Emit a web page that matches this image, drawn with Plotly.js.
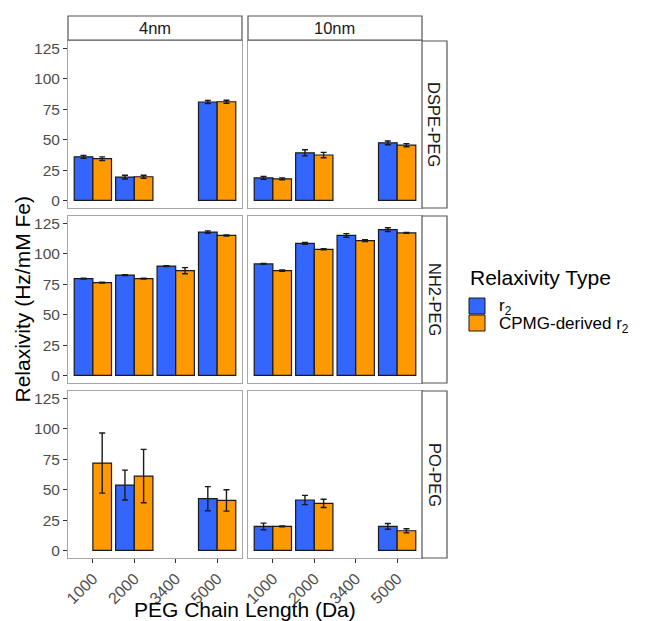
<!DOCTYPE html>
<html>
<head>
<meta charset="utf-8">
<script src="https://cdn.plot.ly/plotly-3.0.1.min.js"></script>
<style>html,body{margin:0;padding:0;background:#fff;}#chart{width:656px;height:621px;}</style>
</head>
<body>
<div id="chart"></div>
<script>
// ---- data ----
const categories = ['1000', '2000', '3400', '5000'];
const sizes = ['4nm', '10nm'];
const coatings = ['DSPE-PEG', 'NH2-PEG', 'PO-PEG'];

const dspe_4nm_r2 = [35.9, 19.2, null, 81.0];
const dspe_4nm_r2_err = [1.2, 1.5, null, 1.2];
const dspe_4nm_cpmg = [34.4, 19.5, null, 81.2];
const dspe_4nm_cpmg_err = [1.5, 1.2, null, 1.2];
const dspe_10nm_r2 = [18.6, 39.2, null, 47.4];
const dspe_10nm_r2_err = [1.2, 2.5, null, 1.5];
const dspe_10nm_cpmg = [17.8, 37.4, null, 45.5];
const dspe_10nm_cpmg_err = [0.8, 2.2, null, 1.3];

const nh2_4nm_r2 = [79.7, 82.6, 90.0, 118.0];
const nh2_4nm_r2_err = [0.3, 0.3, 0.3, 1.0];
const nh2_4nm_cpmg = [76.4, 79.7, 86.2, 115.2];
const nh2_4nm_cpmg_err = [0.3, 0.3, 2.5, 0.4];
const nh2_10nm_r2 = [91.8, 108.7, 115.2, 120.0];
const nh2_10nm_r2_err = [0.3, 0.8, 1.5, 1.5];
const nh2_10nm_cpmg = [86.3, 103.8, 111.0, 117.3];
const nh2_10nm_cpmg_err = [0.6, 0.4, 0.8, 0.3];

const po_4nm_r2 = [null, 53.8, null, 42.6];
const po_4nm_r2_err = [null, 12.3, null, 9.9];
const po_4nm_cpmg = [71.9, 61.2, null, 41.2];
const po_4nm_cpmg_err = [24.7, 22.0, null, 8.8];
const po_10nm_r2 = [19.8, 41.5, null, 19.8];
const po_10nm_r2_err = [2.7, 3.8, null, 2.4];
const po_10nm_cpmg = [19.8, 38.7, null, 16.2];
const po_10nm_cpmg_err = [0.3, 3.4, null, 1.7];

const yTicks = [0, 25, 50, 75, 100, 125];

// ---- layout helpers ----
const W = 656, H = 621;
const px = v => v / W;
const py = v => 1 - v / H;
const FONT = 'Liberation Sans, Arial, sans-serif';
const BLUE = '#3366FF', ORANGE = '#FF9900';

const colX = [[68, 242], [248, 422]];
const rowY = [[41, 208], [216, 383], [391, 558]];

const panels = [
  [[dspe_4nm_r2, dspe_4nm_r2_err, dspe_4nm_cpmg, dspe_4nm_cpmg_err],
   [dspe_10nm_r2, dspe_10nm_r2_err, dspe_10nm_cpmg, dspe_10nm_cpmg_err]],
  [[nh2_4nm_r2, nh2_4nm_r2_err, nh2_4nm_cpmg, nh2_4nm_cpmg_err],
   [nh2_10nm_r2, nh2_10nm_r2_err, nh2_10nm_cpmg, nh2_10nm_cpmg_err]],
  [[po_4nm_r2, po_4nm_r2_err, po_4nm_cpmg, po_4nm_cpmg_err],
   [po_10nm_r2, po_10nm_r2_err, po_10nm_cpmg, po_10nm_cpmg_err]]
];

const traces = [];
const layout = {
  width: W, height: H,
  margin: {l: 0, r: 0, t: 0, b: 0},
  paper_bgcolor: '#fff', plot_bgcolor: '#fff',
  barmode: 'group', bargap: 0.1, bargroupgap: 0,
  showlegend: false,
  font: {family: FONT, color: '#000'},
  shapes: [], annotations: []
};

let n = 0;
for (let r = 0; r < 3; r++) {
  for (let c = 0; c < 2; c++) {
    n++;
    const sfx = n === 1 ? '' : String(n);
    const d = panels[r][c];
    const errStyle = {type: 'data', color: '#1a1a1a', thickness: 1.4, width: 3};
    traces.push({
      type: 'bar', x: categories, y: d[0], name: 'r<sub>2</sub>',
      xaxis: 'x' + sfx, yaxis: 'y' + sfx,
      marker: {color: BLUE, line: {color: '#1a1a1a', width: 1.2}},
      error_y: Object.assign({array: d[1]}, errStyle),
      hoverinfo: 'x+y'
    });
    traces.push({
      type: 'bar', x: categories, y: d[2], name: 'CPMG-derived r<sub>2</sub>',
      xaxis: 'x' + sfx, yaxis: 'y' + sfx,
      marker: {color: ORANGE, line: {color: '#1a1a1a', width: 1.2}},
      error_y: Object.assign({array: d[3]}, errStyle),
      hoverinfo: 'x+y'
    });
    const bottom = r === 2, left = c === 0;
    layout['xaxis' + sfx] = {
      domain: [px(colX[c][0]), px(colX[c][1])],
      anchor: 'y' + sfx,
      type: 'category', categoryorder: 'array', categoryarray: categories,
      range: [-0.6, 3.6], fixedrange: true,
      showgrid: false, zeroline: false,
      showline: true, mirror: true, linecolor: '#a6a6a6', linewidth: 1,
      ticks: bottom ? 'outside' : '', ticklen: 4, tickcolor: '#333', tickwidth: 1,
      showticklabels: bottom, tickangle: -45,
      tickfont: {family: FONT, size: 16, color: '#4d4d4d'}
    };
    layout['yaxis' + sfx] = {
      domain: [py(rowY[r][1]), py(rowY[r][0])],
      anchor: 'x' + sfx,
      range: [-6.2, 131.2], fixedrange: true,
      tickvals: yTicks,
      showgrid: false, zeroline: false,
      showline: true, mirror: true, linecolor: '#a6a6a6', linewidth: 1,
      ticks: left ? 'outside' : '', ticklen: 4, tickcolor: '#333', tickwidth: 1,
      showticklabels: left,
      tickfont: {family: FONT, size: 15.5, color: '#4d4d4d'}
    };
  }
}

// facet strips: top
sizes.forEach((s, c) => {
  layout.shapes.push({type: 'rect', xref: 'paper', yref: 'paper',
    x0: px(colX[c][0]), x1: px(colX[c][1]), y0: py(40), y1: py(16),
    fillcolor: '#fff', line: {color: '#555', width: 1.2}});
  layout.annotations.push({xref: 'paper', yref: 'paper',
    x: px((colX[c][0] + colX[c][1]) / 2), y: py(28), xanchor: 'center', yanchor: 'middle',
    text: s, showarrow: false, font: {family: FONT, size: 16.5, color: '#1a1a1a'}});
});
// facet strips: right
coatings.forEach((s, r) => {
  layout.shapes.push({type: 'rect', xref: 'paper', yref: 'paper',
    x0: px(422), x1: px(447), y0: py(rowY[r][1]), y1: py(rowY[r][0]),
    fillcolor: '#fff', line: {color: '#555', width: 1.2}});
  layout.annotations.push({xref: 'paper', yref: 'paper',
    x: px(434.5), y: py((rowY[r][0] + rowY[r][1]) / 2), xanchor: 'center', yanchor: 'middle',
    text: s, textangle: 90, showarrow: false, font: {family: FONT, size: 16.5, color: '#1a1a1a'}});
});

// axis titles
layout.annotations.push({xref: 'paper', yref: 'paper', x: px(22), y: py(299.5),
  xanchor: 'center', yanchor: 'middle', textangle: -90, showarrow: false,
  text: 'Relaxivity (Hz/mM Fe)', font: {family: FONT, size: 21, color: '#000'}});
layout.annotations.push({xref: 'paper', yref: 'paper', x: px(245), y: py(609),
  xanchor: 'center', yanchor: 'middle', showarrow: false,
  text: 'PEG Chain Length (Da)', font: {family: FONT, size: 21, color: '#000'}});

// legend (drawn as key boxes + labels)
layout.annotations.push({xref: 'paper', yref: 'paper', x: px(468), y: py(277),
  xanchor: 'left', yanchor: 'middle', showarrow: false,
  text: 'Relaxivity Type', font: {family: FONT, size: 21, color: '#000'}});
[[BLUE, 'r<sub>2</sub>', 298, 307], [ORANGE, 'CPMG-derived r<sub>2</sub>', 315, 325]].forEach(([col, lab, y0, yl]) => {
  layout.shapes.push({type: 'rect', xref: 'paper', yref: 'paper',
    x0: px(469), x1: px(485), y0: py(y0 + 16), y1: py(y0),
    fillcolor: col, line: {color: '#1a1a1a', width: 1}});
  layout.annotations.push({xref: 'paper', yref: 'paper', x: px(497), y: py(yl),
    xanchor: 'left', yanchor: 'middle', showarrow: false,
    text: lab, font: {family: FONT, size: 17, color: '#000'}});
});

Plotly.newPlot('chart', traces, layout, {displayModeBar: false, staticPlot: true});
</script>
</body>
</html>
